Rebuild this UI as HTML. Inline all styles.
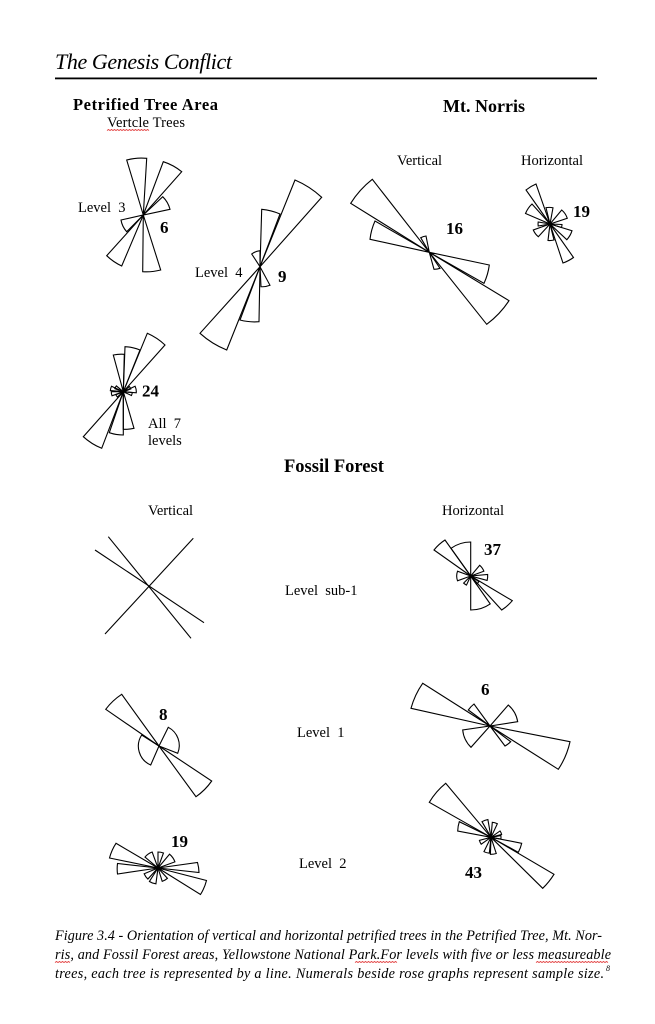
<!DOCTYPE html>
<html><head><meta charset="utf-8"><style>
html,body{margin:0;padding:0;background:#fff}
svg{display:block}
text{font-family:"Liberation Serif","Times New Roman",serif;fill:#000;white-space:pre}
.b{font-weight:bold}
.n{font-weight:bold;font-size:17px}
.l{font-size:14.5px}
.c{font-style:italic;font-size:14.2px}
path{fill:none;stroke:#000;stroke-width:1.1;vector-effect:non-scaling-stroke;stroke-linejoin:miter}
path.r{stroke:#e03030;stroke-width:0.8}
</style></head><body>
<svg width="655" height="1024" viewBox="0 0 655 1024" xmlns="http://www.w3.org/2000/svg">
<!-- header -->
<text x="55" y="69" font-style="italic" font-size="22" textLength="177">The Genesis Conflict</text>
<rect x="55" y="77.5" width="542" height="1.8" fill="#000"/>

<!-- titles -->
<text x="73" y="110" class="b" font-size="16.5" textLength="145">Petrified Tree Area</text>
<text x="107" y="127" class="l" textLength="78">Vertcle Trees</text>
<path class="r" d="M107 130.5l1.5-1 1.5 1 1.5-1 1.5 1 1.5-1 1.5 1 1.5-1 1.5 1 1.5-1 1.5 1 1.5-1 1.5 1 1.5-1 1.5 1 1.5-1 1.5 1 1.5-1 1.5 1 1.5-1 1.5 1 1.5-1 1.5 1 1.5-1 1.5 1 1.5-1 1.5 1 1.5-1 1.5 1"/>
<text x="443" y="112" class="b" font-size="18" textLength="82">Mt. Norris</text>
<text x="397" y="165" class="l">Vertical</text>
<text x="521" y="165" class="l">Horizontal</text>

<!-- Level 3 -->
<text x="78" y="212" class="l">Level  3</text>
<text x="160" y="233" class="n">6</text>
<path d="M143.3 215L126.7 160A56 56 0 0 1 146.7 158.3Z"/>
<path d="M143.3 215L163.3 161.7A57 57 0 0 1 181.7 171.7Z"/>
<path d="M143.3 215L162.7 196.7A27 27 0 0 1 170 209.3Z"/>
<path d="M143.3 215L160.7 270A57 57 0 0 1 142.7 271.7Z"/>
<path d="M143.3 215L121.7 266A55 55 0 0 1 106.7 255.7Z"/>
<path d="M143.3 215L126.7 231.7A23 23 0 0 1 121 220Z"/>

<!-- Level 4 -->
<text x="195" y="277" class="l">Level  4</text>
<text x="278" y="282" class="n">9</text>
<path d="M260 266.7L295 180A93 93 0 0 1 321.7 197.3Z"/>
<path d="M260 266.7L261.7 209.3A57 57 0 0 1 280 214Z"/>
<path d="M260 266.7L251.7 254A15.5 15.5 0 0 1 260 250.7Z"/>
<path d="M260 266.7L270 285.3A20 20 0 0 1 261 286.7Z"/>
<path d="M260 266.7L226.7 350A90 90 0 0 1 200 333.3Z"/>
<path d="M260 266.7L259 321.7A56 56 0 0 1 240 320Z"/>

<!-- Mt Norris vertical -->
<text x="446" y="234" class="n">16</text>
<path d="M429.3 252.3L350.7 203.3A92.6 92.6 0 0 1 372.3 179.3Z"/>
<path d="M429.3 252.3L370 239.3A61 61 0 0 1 375 221Z"/>
<path d="M429.3 252.3L420.7 237.7A17 17 0 0 1 426 236Z"/>
<path d="M429.3 252.3L489.3 265A62 62 0 0 1 484 283.3Z"/>
<path d="M429.3 252.3L509 300.7A93 93 0 0 1 486.7 324.3Z"/>
<path d="M429.3 252.3L440 268.3A18 18 0 0 1 434 269.3Z"/>

<!-- Mt Norris horizontal -->
<text x="573" y="217" class="n">19</text>
<path d="M550 224L526 190A42 42 0 0 1 536 184Z"/>
<path d="M550 224L573.5 257.5A41 41 0 0 1 563 263Z"/>
<path d="M550 224L525.5 213.5A26.5 26.5 0 0 1 532 204Z"/>
<path d="M550 224L546 207.7A16.5 16.5 0 0 1 553 207.8Z"/>
<path d="M550 224L561.7 210A18.2 18.2 0 0 1 567.3 218.3Z"/>
<path d="M550 224L562 224.5A12 12 0 0 1 561.5 227.5Z"/>
<path d="M550 224L572 230.7A23 23 0 0 1 566.8 239.7Z"/>
<path d="M550 224L554 240A16.5 16.5 0 0 1 548 240.4Z"/>
<path d="M550 224L538.3 236.7A17.5 17.5 0 0 1 533.3 230Z"/>
<path d="M550 224L538.2 226A12 12 0 0 1 538.2 222Z"/>

<!-- All 7 levels -->
<text x="142" y="396.5" class="n">24</text>
<text x="148" y="428" class="l">All  7</text>
<text x="148" y="445" class="l">levels</text>
<path d="M123.3 391.7L147.3 333.3A63 63 0 0 1 165 345Z"/>
<path d="M123.3 391.7L125 346.7A45 45 0 0 1 140 350Z"/>
<path d="M123.3 391.7L113.3 355A37.5 37.5 0 0 1 124.3 354.3Z"/>
<path d="M123.3 391.7L101.7 448.3A60.5 60.5 0 0 1 83.3 436.7Z"/>
<path d="M123.3 391.7L123.3 435A43.3 43.3 0 0 1 109.3 432.7Z"/>
<path d="M123.3 391.7L134 428.3A38 38 0 0 1 123.3 429.3Z"/>
<path transform="translate(123.3 391.7) rotate(80) scale(13)" d="M0 0L-.259-.966A1 1 0 0 1 .259-.966Z"/>
<path transform="translate(123.3 391.7) rotate(105) scale(9)" d="M0 0L-.174-.985A1 1 0 0 1 .174-.985Z"/>
<path transform="translate(123.3 391.7) rotate(60) scale(8)" d="M0 0L-.174-.985A1 1 0 0 1 .174-.985Z"/>
<path transform="translate(123.3 391.7) rotate(260) scale(12)" d="M0 0L-.174-.985A1 1 0 0 1 .174-.985Z"/>
<path transform="translate(123.3 391.7) rotate(285) scale(13)" d="M0 0L-.174-.985A1 1 0 0 1 .174-.985Z"/>
<path transform="translate(123.3 391.7) rotate(238) scale(8)" d="M0 0L-.174-.985A1 1 0 0 1 .174-.985Z"/>
<path transform="translate(123.3 391.7) rotate(300) scale(9)" d="M0 0L-.174-.985A1 1 0 0 1 .174-.985Z"/>

<!-- Fossil Forest -->
<text x="284" y="472" class="b" font-size="18.5">Fossil Forest</text>
<text x="148" y="515" class="l">Vertical</text>
<text x="442" y="515" class="l">Horizontal</text>
<text x="285" y="595" class="l">Level  sub-1</text>
<path d="M108.3 536.7L191 638.3"/>
<path d="M95 550L204 622.7"/>
<path d="M193.3 538.3L105 634"/>

<!-- Fossil horizontal sub-1 -->
<text x="484" y="555" class="n">37</text>
<path d="M470.7 576L434 550A45 45 0 0 1 445 540Z"/>
<path d="M470.7 576L451 548.3A34 34 0 0 1 470.7 542Z"/>
<path d="M470.7 576L512.3 600.7A47.5 47.5 0 0 1 501.7 610Z"/>
<path d="M470.7 576L490.2 603.9A34 34 0 0 1 470.7 610Z"/>
<path transform="translate(470.7 576) rotate(270) scale(14)" d="M0 0L-.342-.940A1 1 0 0 1 .342-.940Z"/>
<path transform="translate(470.7 576) rotate(55) scale(14)" d="M0 0L-.259-.966A1 1 0 0 1 .259-.966Z"/>
<path transform="translate(470.7 576) rotate(95) scale(17)" d="M0 0L-.174-.985A1 1 0 0 1 .174-.985Z"/>
<path transform="translate(470.7 576) rotate(215) scale(10)" d="M0 0L-.174-.985A1 1 0 0 1 .174-.985Z"/>
<path transform="translate(470.7 576) rotate(135) scale(10)" d="M0 0L-.174-.985A1 1 0 0 1 .174-.985Z"/>

<!-- Level 1 -->
<text x="297" y="737" class="l">Level  1</text>
<text x="159" y="720" class="n">8</text>
<path d="M159 746L105.7 709.3A64 64 0 0 1 121.7 694.3Z"/>
<path d="M159 746L211.7 781A63 63 0 0 1 196 796.7Z"/>
<path d="M159 746L168.3 727.3A20.5 20.5 0 0 1 177.7 753.3Z"/>
<path d="M159 746L150.7 765A20.5 20.5 0 0 1 141.7 735Z"/>

<text x="481" y="695" class="n">6</text>
<path d="M490 726L411 708.3A80.5 80.5 0 0 1 422.7 683.3Z"/>
<path d="M490 726L570 741.7A81 81 0 0 1 558.3 769.3Z"/>
<path d="M490 726L468.3 710A27 27 0 0 1 474 704Z"/>
<path d="M490 726L508.3 705A28 28 0 0 1 517.7 721.7Z"/>
<path d="M490 726L471 747.3A28 28 0 0 1 462.7 730Z"/>
<path d="M490 726L510.7 741.7A26 26 0 0 1 505 746Z"/>

<!-- Level 2 -->
<text x="299" y="868" class="l">Level  2</text>
<text x="171" y="847" class="n">19</text>
<path d="M158 868L109.5 858A49.5 49.5 0 0 1 116 843.3Z"/>
<path d="M158 868L117.5 874A41 41 0 0 1 117.5 863.5Z"/>
<path d="M158 868L197.5 862.5A40 40 0 0 1 199 872.5Z"/>
<path d="M158 868L206.5 880.5A50 50 0 0 1 200.5 894.5Z"/>
<path transform="translate(158 868) rotate(-35) scale(17)" d="M0 0L-.259-.966A1 1 0 0 1 .259-.966Z"/>
<path transform="translate(158 868) rotate(10) scale(16)" d="M0 0L-.174-.985A1 1 0 0 1 .174-.985Z"/>
<path transform="translate(158 868) rotate(55) scale(18)" d="M0 0L-.259-.966A1 1 0 0 1 .259-.966Z"/>
<path transform="translate(158 868) rotate(200) scale(16)" d="M0 0L-.216-.976A1 1 0 0 1 .216-.976Z"/>
<path transform="translate(158 868) rotate(150) scale(14)" d="M0 0L-.216-.976A1 1 0 0 1 .216-.976Z"/>
<path transform="translate(158 868) rotate(235) scale(15)" d="M0 0L-.216-.976A1 1 0 0 1 .216-.976Z"/>

<text x="465" y="878" class="n">43</text>
<path d="M491 837.3L429.3 802.3A71 71 0 0 1 445.7 783.3Z"/>
<path d="M491 837.3L554 874.3A73 73 0 0 1 542.7 888.3Z"/>
<path d="M491 837.3L457.7 831A34 34 0 0 1 459.3 821.7Z"/>
<path d="M491 837.3L521.7 843.3A31.5 31.5 0 0 1 518.3 852.3Z"/>
<path transform="translate(491 837.3) rotate(-20) scale(18)" d="M0 0L-.174-.985A1 1 0 0 1 .174-.985Z"/>
<path transform="translate(491 837.3) rotate(15) scale(15)" d="M0 0L-.174-.985A1 1 0 0 1 .174-.985Z"/>
<path transform="translate(491 837.3) rotate(65) scale(11)" d="M0 0L-.174-.985A1 1 0 0 1 .174-.985Z"/>
<path transform="translate(491 837.3) rotate(172) scale(17)" d="M0 0L-.174-.985A1 1 0 0 1 .174-.985Z"/>
<path transform="translate(491 837.3) rotate(196) scale(16)" d="M0 0L-.174-.985A1 1 0 0 1 .174-.985Z"/>
<path transform="translate(491 837.3) rotate(245) scale(12)" d="M0 0L-.174-.985A1 1 0 0 1 .174-.985Z"/>
<path transform="translate(491 837.3) rotate(90) scale(10)" d="M0 0L-.174-.985A1 1 0 0 1 .174-.985Z"/>

<!-- caption -->
<text x="55" y="940" class="c" textLength="547" lengthAdjust="spacing">Figure 3.4 - Orientation of vertical and horizontal petrified trees in the Petrified Tree, Mt. Nor-</text>
<text x="55" y="959" class="c" textLength="556" lengthAdjust="spacing">ris, and Fossil Forest areas, Yellowstone National Park.For levels with five or less measureable</text>
<path class="r" d="M55 962.5l1.5-1 1.5 1 1.5-1 1.5 1 1.5-1 1.5 1 1.5-1 1.5 1 1.5-1 1.5 1"/>
<path class="r" d="M355 962.5l1.5-1 1.5 1 1.5-1 1.5 1 1.5-1 1.5 1 1.5-1 1.5 1 1.5-1 1.5 1 1.5-1 1.5 1 1.5-1 1.5 1 1.5-1 1.5 1 1.5-1 1.5 1 1.5-1 1.5 1 1.5-1 1.5 1 1.5-1 1.5 1 1.5-1 1.5 1 1.5-1 1.5 1"/>
<path class="r" d="M536 962.5l1.5-1 1.5 1 1.5-1 1.5 1 1.5-1 1.5 1 1.5-1 1.5 1 1.5-1 1.5 1 1.5-1 1.5 1 1.5-1 1.5 1 1.5-1 1.5 1 1.5-1 1.5 1 1.5-1 1.5 1 1.5-1 1.5 1 1.5-1 1.5 1 1.5-1 1.5 1 1.5-1 1.5 1 1.5-1 1.5 1 1.5-1 1.5 1 1.5-1 1.5 1 1.5-1 1.5 1 1.5-1 1.5 1 1.5-1 1.5 1 1.5-1 1.5 1 1.5-1 1.5 1 1.5-1 1.5 1 1.5-1 1.5 1"/>
<text x="55" y="978" class="c" textLength="549" lengthAdjust="spacing">trees, each tree is represented by a line. Numerals beside rose graphs represent sample size.</text>
<text x="606" y="971" font-style="italic" font-size="8">8</text>
</svg>
</body></html>
